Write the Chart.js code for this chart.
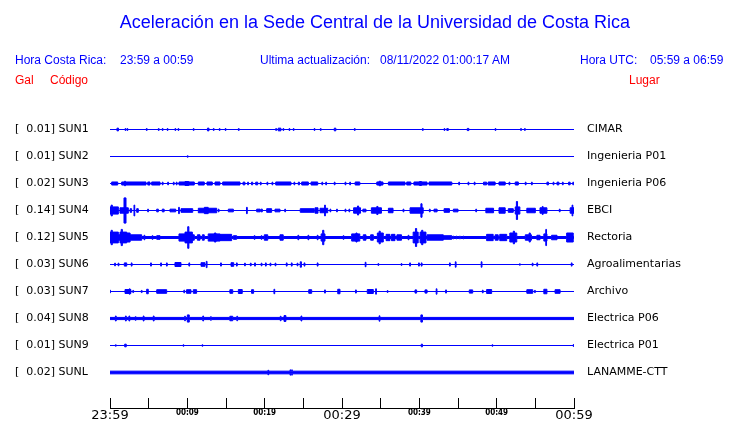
<!DOCTYPE html>
<html>
<head>
<meta charset="utf-8">
<script src="https://cdn.jsdelivr.net/npm/chart.js@4.4.1/dist/chart.umd.min.js"></script>
<style>
    body { margin: 0; background: #fff; }
    #wrap { position: relative; width: 740px; height: 423px; }
    #wrap canvas { position: absolute; left: 0; top: 0; }
    .t { position: absolute; font-family: 'Liberation Sans', Arial, sans-serif; white-space: pre; line-height: 20px; }
    .blue { color: #0000ff; }
    .red { color: #ff0000; }
</style>
</head>
<body>
<div id="wrap">
    <canvas id="chart-canvas" width="740" height="423"></canvas>
    <div class="t blue" style="left:5px;width:740px;text-align:center;top:12px;font-size:18px">Aceleración en la Sede Central de la Universidad de Costa Rica</div>
    <div class="t blue" style="left:15px;top:50px;font-size:12px">Hora Costa Rica:</div>
    <div class="t blue" style="left:120px;top:50px;font-size:12px">23:59 a 00:59</div>
    <div class="t blue" style="left:260px;top:50px;font-size:12px">Ultima actualización:</div>
    <div class="t blue" style="left:380px;top:50px;font-size:12px">08/11/2022 01:00:17 AM</div>
    <div class="t blue" style="left:580px;top:50px;font-size:12px">Hora UTC:</div>
    <div class="t blue" style="left:650px;top:50px;font-size:12px">05:59 a 06:59</div>
    <div class="t red" style="left:15px;top:70px;font-size:12px">Gal</div>
    <div class="t red" style="left:50px;top:70px;font-size:12px">Código</div>
    <div class="t red" style="left:629px;top:70px;font-size:12px">Lugar</div>
</div>
<script>
// stations, top to bottom
const codes = ['SUN1', 'SUN2', 'SUN3', 'SUN4', 'SUN5', 'SUN6', 'SUN7', 'SUN8', 'SUN9', 'SUNL']
const maxGal = [0.01, 0.01, 0.02, 0.14, 0.12, 0.03, 0.03, 0.04, 0.01, 0.02]
const places = ['CIMAR', 'Ingenieria P01', 'Ingenieria P06', 'EBCI', 'Rectoria',
    'Agroalimentarias', 'Archivo', 'Electrica P06', 'Electrica P01', 'LANAMME-CTT']
// background noise level (Gal) of each trace
const noise = [0, 0, 0, 0, 0.011, 0, 0, 0.012, 0, 0.015]

// time axis: minutes after 23:59
const tickLabels = ['23:59', '00:09', '00:19', '00:29', '00:39', '00:49', '00:59']

// events of each trace: [start min, end min, amplitude Gal]
const sun1 = [[0.9,1.1,0.015],[1.95,2.05,0.01],[2.2,2.3,0.01],[4.7,4.8,0.01],[6.25,6.35,0.01],[6.76,6.86,0.01],
    [7.4,7.5,0.01],[8.4,8.5,0.01],[8.8,8.9,0.01],[10.77,10.87,0.01],[12.6,12.8,0.015],[13.36,13.46,0.01],
    [14.13,14.23,0.01],[14.9,15.0,0.01],[16.6,16.7,0.01],[21.43,21.53,0.01],[21.75,22.1,0.015],[22.37,22.47,0.01],
    [23.15,23.25,0.01],[23.7,23.8,0.01],[26.4,26.5,0.01],[27.2,27.3,0.01],[29.0,29.2,0.015],[31.6,31.7,0.01],
    [40.4,40.5,0.01],[43.2,43.3,0.01],[43.55,43.75,0.01],[46.2,46.4,0.012],[49.8,49.9,0.01],[53.1,53.2,0.01],
    [53.6,53.7,0.01]]
const sun2 = [[10.0,10.1,0.008]]
const sun3 = [[0.22,1.0,0.017],[1.51,1.88,0.017],[1.88,2.0,0.025],[2.0,4.66,0.017],[4.88,5.17,0.017],[5.39,6.47,0.017],
    [6.76,6.86,0.015],[7.46,7.56,0.015],[8.19,8.29,0.015],[8.57,8.67,0.015],[8.92,9.7,0.017],[9.7,10.2,0.022],
    [10.2,10.9,0.017],[11.42,12.19,0.017],[12.54,13.23,0.017],[13.58,14.22,0.017],[14.57,16.81,0.017],[17.2,17.45,0.015],
    [17.8,17.9,0.015],[18.3,18.45,0.015],[18.84,19.1,0.015],[19.44,19.54,0.015],[20.3,20.4,0.015],[20.95,21.05,0.015],
    [21.43,23.4,0.017],[23.79,23.89,0.015],[24.35,24.5,0.015],[24.79,25.65,0.017],[26.0,26.86,0.017],[27.4,27.5,0.015],
    [27.9,28.0,0.015],[29.0,29.1,0.015],[30.4,30.5,0.015],[31.0,31.1,0.015],[31.7,32.3,0.017],[34.5,34.8,0.017],
    [34.8,35.0,0.025],[35.0,35.3,0.017],[36.0,38.15,0.017],[38.37,38.9,0.017],[39.3,40.0,0.017],[40.0,40.3,0.022],
    [40.3,41.0,0.017],[41.25,44.2,0.017],[45.1,45.2,0.015],[46.3,46.4,0.015],[47.1,47.2,0.015],[48.3,48.7,0.015],
    [48.9,49.8,0.017],[50.3,51.1,0.017],[51.6,51.7,0.015],[52.4,52.8,0.017],[53.7,53.8,0.015],[54.5,54.6,0.015],
    [56.5,56.7,0.015],[57.3,57.4,0.015],[57.8,58.05,0.015],[58.5,58.6,0.015],[59.3,59.5,0.015],[59.85,59.95,0.015]]
const sun4 = [[0,0.15,0.04],[0.15,0.3,0.06],[0.3,1.08,0.04],[1.29,1.81,0.03],[1.81,2.07,0.14],[2.07,2.37,0.03],
    [2.6,2.8,0.02],[3.1,3.2,0.06],[3.45,3.66,0.02],[4.87,4.97,0.015],[6.04,6.25,0.015],[6.76,7.0,0.015],[7.76,8.5,0.015],
    [8.87,8.97,0.035],[9.18,10.7,0.02],[11.42,12.2,0.025],[12.2,12.7,0.035],[12.7,13.8,0.025],[14.0,14.1,0.015],
    [15.3,15.95,0.015],[17.65,17.75,0.035],[18.97,19.4,0.015],[19.5,19.7,0.015],[20.26,20.9,0.02],[21.34,21.98,0.015],
    [22.6,22.7,0.015],[24.6,26.4,0.02],[26.5,26.9,0.03],[27.16,27.75,0.025],[27.75,27.85,0.06],[27.85,28.15,0.025],
    [28.45,28.55,0.015],[29.3,29.4,0.015],[30.4,30.5,0.015],[30.9,31.0,0.015],[31.5,32.0,0.03],[32.0,32.15,0.05],
    [32.15,32.4,0.03],[32.7,33.1,0.015],[33.8,34.5,0.03],[34.5,34.65,0.045],[34.65,35.1,0.03],[36.0,36.6,0.025],
    [37.9,38.0,0.015],[38.8,40.2,0.03],[40.2,40.35,0.075],[40.35,40.5,0.03],[41.3,41.4,0.015],[41.9,42.3,0.015],
    [43.2,43.9,0.02],[44.4,45.0,0.015],[47.3,47.4,0.015],[48.6,49.6,0.025],[50.3,51.1,0.03],[51.5,52.15,0.02],
    [52.4,52.55,0.04],[52.55,52.7,0.1],[52.7,53.0,0.04],[53.9,55.0,0.025],[55.6,55.9,0.03],[55.9,56.0,0.045],
    [56.0,56.5,0.03],[58.1,58.2,0.015],[59.5,59.75,0.03],[59.75,59.85,0.06],[59.85,60,0.03]]
const sun5 = [[0,0.15,0.06],[0.15,0.3,0.08],[0.3,1.08,0.06],[1.08,1.29,0.03],[1.29,1.45,0.06],[1.45,1.6,0.09],
    [1.6,2.16,0.06],[2.16,2.6,0.05],[2.6,4.1,0.03],[4.4,4.5,0.025],[5.45,5.55,0.02],[6.04,6.47,0.02],[8.92,9.7,0.04],
    [9.7,10.05,0.06],[10.05,10.2,0.12],[10.2,10.65,0.06],[10.65,10.9,0.03],[11.3,11.64,0.03],[11.94,12.19,0.03],
    [12.7,13.5,0.04],[13.5,13.7,0.05],[13.7,14.22,0.04],[14.22,15.73,0.035],[15.95,16.38,0.02],[18.65,18.75,0.02],
    [19.55,19.65,0.02],[19.95,20.4,0.03],[21.98,22.4,0.03],[24.3,24.4,0.025],[25.6,25.7,0.025],[26.8,26.9,0.025],
    [27.3,27.5,0.04],[27.5,27.65,0.08],[27.65,27.8,0.04],[30.15,30.25,0.02],[31.25,31.8,0.04],[31.8,31.95,0.05],
    [31.95,32.3,0.04],[32.75,33.1,0.03],[33.7,34.05,0.03],[34.57,34.8,0.05],[34.8,34.95,0.07],[34.95,35.34,0.05],
    [35.7,36.2,0.035],[36.4,36.85,0.035],[37.1,37.7,0.03],[38.55,38.65,0.025],[39.2,39.5,0.06],[39.5,39.65,0.1],
    [39.65,39.85,0.06],[40.1,40.3,0.06],[40.3,40.45,0.08],[40.45,40.86,0.06],[41.0,43.1,0.03],[43.1,44.2,0.02],
    [44.35,44.45,0.015],[44.75,44.85,0.015],[45.2,45.3,0.015],[45.65,45.75,0.015],[48.7,49.55,0.035],[49.8,50.2,0.03],
    [50.4,51.3,0.035],[51.7,52.15,0.05],[52.15,52.3,0.07],[52.3,52.6,0.05],[53.7,54.2,0.03],[54.2,54.35,0.05],
    [54.35,54.5,0.03],[55.2,55.6,0.025],[56.1,56.35,0.04],[56.35,56.45,0.09],[56.45,56.5,0.04],[57.1,57.8,0.025],
    [59.05,59.9,0.05]]
const sun6 = [[0.6,0.7,0.015],[1.05,1.15,0.015],[1.85,2.16,0.018],[2.75,2.85,0.018],[5.25,5.35,0.018],[6.55,6.65,0.018],
    [7.3,7.4,0.018],[8.4,9.18,0.022],[10.2,10.3,0.018],[11.77,12.28,0.02],[12.45,12.55,0.035],[14.3,14.4,0.018],
    [15.65,16.0,0.02],[16.35,16.45,0.018],[17.4,17.5,0.015],[18.15,18.25,0.015],[18.7,18.8,0.018],[19.55,19.65,0.015],
    [20.1,20.2,0.018],[20.7,20.8,0.015],[21.35,21.45,0.015],[22.8,22.9,0.018],[23.45,23.55,0.018],[24.2,24.3,0.015],
    [24.6,24.75,0.03],[25.1,25.2,0.018],[26.8,26.9,0.018],[33.0,33.1,0.025],[34.65,34.75,0.01],[37.65,37.75,0.01],
    [38.75,38.85,0.018],[39.9,40.0,0.018],[40.25,40.35,0.018],[43.9,44.0,0.018],[44.65,44.75,0.03],[48.0,48.1,0.03],
    [52.95,53.05,0.008],[54.6,54.7,0.015],[55.2,55.3,0.018],[59.65,59.75,0.018]]
const sun7 = [[0,0.05,0.015],[1.94,2.5,0.022],[2.5,2.6,0.03],[2.6,2.7,0.022],[2.95,3.05,0.012],[4.05,4.15,0.012],
    [4.74,4.95,0.025],[6.04,7.33,0.02],[9.55,9.65,0.015],[9.9,10.47,0.02],[10.77,11.2,0.02],[15.5,15.87,0.02],
    [16.6,17.1,0.022],[18.3,18.57,0.02],[21.2,21.3,0.025],[25.7,26.08,0.02],[27.75,27.85,0.018],[29.45,29.74,0.025],
    [31.75,31.85,0.018],[33.27,34.05,0.022],[34.35,34.45,0.03],[35.85,35.95,0.01],[39.44,39.65,0.018],[40.73,41.0,0.018],
    [42.18,42.28,0.03],[43.4,43.5,0.018],[46.46,46.9,0.018],[48.15,48.25,0.015],[48.7,49.35,0.022],[53.9,54.66,0.02],
    [54.9,55.0,0.012],[56.1,56.5,0.025],[57.55,58.2,0.02]]
const sun8 = [[0.7,0.8,0.028],[2.0,2.1,0.028],[2.45,2.55,0.028],[3.27,3.37,0.02],[4.3,4.4,0.028],[5.6,5.7,0.028],
    [9.65,9.75,0.025],[10.0,10.25,0.04],[12.0,12.1,0.028],[13.0,13.1,0.02],[15.5,15.87,0.025],[16.4,16.5,0.025],
    [22.02,22.12,0.025],[22.5,22.75,0.032],[24.7,24.8,0.028],[34.8,34.9,0.03],[40.2,40.4,0.04]]
const sun9 = [[0.7,0.8,0.008],[1.9,2.1,0.015],[9.45,9.55,0.008],[11.9,12.0,0.008],[40.25,40.4,0.015],
    [49.4,49.5,0.008],[59.9,60,0.01]]
const sunl = [[20.42,20.52,0.025],[23.28,23.35,0.03],[23.5,23.57,0.03]]

const traces = [sun1, sun2, sun3, sun4, sun5, sun6, sun7, sun8, sun9, sunl]
const rowStep = 0.3
const rows = codes.map((c, i) => -i * rowStep)

// outline of one trace, stepped: upper edge (sign 1) or lower edge (sign -1)
function edge(events, base, row, sign) {
    let pts = [{ x: 0, y: row + sign * base }]
    events.forEach(([a, b, amp]) => {
        pts.push({ x: a, y: row + sign * Math.max(amp, base) })
        pts.push({ x: b, y: row + sign * base })
    })
    pts.push({ x: 60, y: row + sign * base })
    return pts
}

let datasets = []
traces.forEach((ev, i) => {
    let common = { borderColor: '#0000ff', backgroundColor: '#0000ff', borderWidth: 1,
        pointRadius: 0, stepped: true, tension: 0 }
    datasets.push(Object.assign({ data: edge(ev, noise[i], rows[i], -1), fill: false }, common))
    datasets.push(Object.assign({ data: edge(ev, noise[i], rows[i], 1), fill: '-1' }, common))
})

const rowTicks = scale => { scale.ticks = rows.map(v => ({ value: v })) }
const yTop = 0.23889
const yBottom = yTop - 300 / 90

const ctx = document.getElementById('chart-canvas')
const chart = new Chart(ctx, {
    type: 'line',
    data: { datasets: datasets },
    options: {
        responsive: false,
        animation: false,
        layout: { padding: { top: 108, left: 15, right: 0, bottom: 0 } },
        plugins: { legend: { display: false }, tooltip: { enabled: false } },
        scales: {
            x: {
                type: 'linear', min: 0, max: 60,
                afterFit: s => { s.height = 15 },
                border: { display: true, color: '#000', width: 1 },
                grid: { display: true, drawOnChartArea: false, drawTicks: true, tickLength: -10, color: '#000' },
                ticks: {
                    stepSize: 5, autoSkip: false, maxRotation: 0, padding: 10, color: '#000',
                    callback: v => v % 10 === 0 ? tickLabels[v / 10] : '',
                    font: c => (c.tick && c.tick.value % 30 === 0)
                        ? { family: 'DejaVu Sans', size: 13 }
                        : { family: 'DejaVu Sans Condensed', size: 8, weight: 'bold' }
                }
            },
            y: {
                position: 'left', min: yBottom, max: yTop,
                afterFit: s => { s.width = 95 },
                afterBuildTicks: rowTicks,
                border: { display: false },
                grid: { display: false, drawTicks: false },
                ticks: {
                    crossAlign: 'far', padding: 0, color: '#000', font: { family: 'DejaVu Sans', size: 11 },
                    callback: (v, i) => '[  ' + maxGal[i].toFixed(2) + '] ' + codes[i]
                }
            },
            y2: {
                position: 'right', display: true, min: yBottom, max: yTop,
                afterFit: s => { s.width = 166 },
                afterBuildTicks: rowTicks,
                border: { display: false },
                grid: { display: false, drawTicks: true, tickLength: 13 },
                ticks: {
                    crossAlign: 'near', padding: 0, color: '#000', font: { family: 'DejaVu Sans', size: 11 },
                    callback: (v, i) => places[i]
                }
            }
        }
    }
})
</script>
</body>
</html>
